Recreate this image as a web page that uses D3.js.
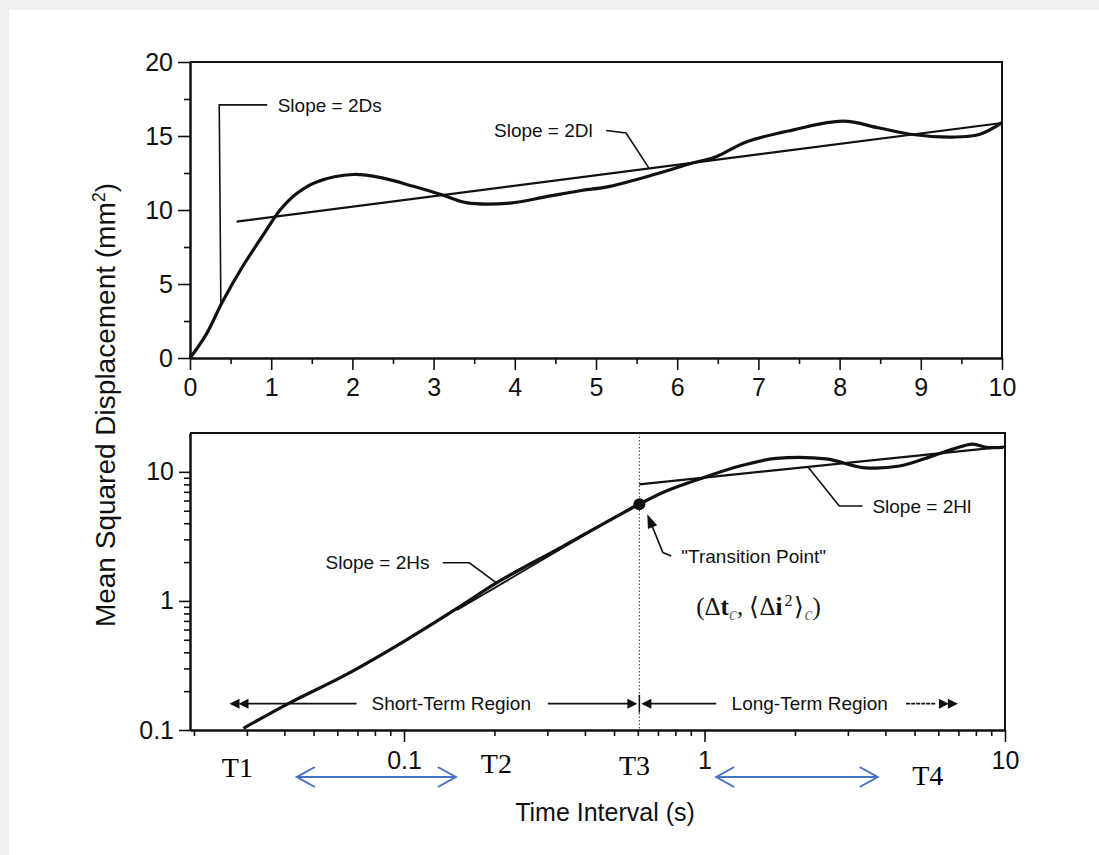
<!DOCTYPE html>
<html><head><meta charset="utf-8">
<script src="https://cdn.jsdelivr.net/npm/d3@7"></script>
<style>body{margin:0;background:#fff}</style>
</head><body>
<svg id="c" width="1099" height="855"></svg>
<script>
// ---------- DATA ----------
// Top panel (linear): time interval (s) vs MSD (mm^2)
const topTime = [0, 0.2, 0.4, 0.65, 0.90, 1.11, 1.31, 1.56, 2.01, 2.38, 2.75, 3.12, 3.40, 3.94, 4.39, 4.80, 5.17, 5.78, 6.19, 6.48, 6.85, 7.42, 8.04, 8.49, 8.90, 9.39, 9.72, 10.0];
const topMSD  = [0, 1.6, 3.8, 6.2, 8.3, 10.0, 11.1, 11.9, 12.4, 12.15, 11.6, 11.0, 10.5, 10.47, 10.9, 11.3, 11.6, 12.5, 13.17, 13.6, 14.6, 15.4, 16.0, 15.54, 15.1, 14.93, 15.1, 15.9];
const topFitTime = [0.574, 10.0];
const topFitMSD  = [9.22, 15.88];
const topXTicks = [0,1,2,3,4,5,6,7,8,9,10];
const topYTicks = [0,5,10,15,20];

// Bottom panel (log-log)
const logTime = [0.0292, 0.0418, 0.0644, 0.102, 0.157, 0.203, 0.339, 0.607, 0.746, 0.962, 1.31, 1.73, 2.54, 3.36, 4.46, 5.75, 6.7, 7.8, 8.66, 9.87];
const logMSD  = [0.103, 0.163, 0.27, 0.5, 0.935, 1.38, 2.66, 5.62, 7.1, 8.8, 11.1, 12.7, 12.6, 10.8, 11.1, 13.3, 15.0, 16.4, 15.5, 15.5];
const shortFitTime = [0.15, 0.607];
const shortFitMSD  = [0.85, 5.75];
const longFitTime = [0.607, 10.0];
const longFitMSD  = [8.0, 15.7];
const transition = [0.607, 5.62];
const logXTicks = [0.1, 1, 10];
const logXLabels = ["0.1", "1", "10"];
const logYTicks = [0.1, 1, 10];
const logYLabels = ["0.1", "1", "10"];
const phaseLabels = ["T1", "T2", "T3", "T4"];
const phaseTimes = [0.0279, 0.203, 0.585, 5.53];

// ---------- DRAW ----------
const W = 1099, H = 855;
const svg = d3.select('#c');
svg.append('rect').attr('width', W).attr('height', H).attr('fill', '#efefef');
svg.append('rect').attr('x', 9).attr('y', 10).attr('width', W - 9).attr('height', H - 10).attr('fill', '#fff');

const SANS = '"Liberation Sans", Arial, sans-serif';
const SERIF = '"Liberation Serif", "Times New Roman", serif';
const INK = '#111';

function styleAxis(g, fs) {
  g.selectAll('path.domain').attr('stroke', INK).attr('stroke-width', 2);
  g.selectAll('line').attr('stroke', INK).attr('stroke-width', 1.6);
  g.selectAll('text').attr('fill', INK).style('font-family', SANS).style('font-size', fs + 'px');
}

// ===== Top panel =====
const x1 = d3.scaleLinear().domain([0, 10]).range([190, 1002]);
const y1 = d3.scaleLinear().domain([0, 20]).range([358, 62]);
const gTop = svg.append('g');

gTop.append('g').attr('transform', 'translate(0,358)')
  .call(d3.axisBottom(x1).tickValues(d3.range(0.5, 10, 1)).tickSize(6).tickFormat('').tickSizeOuter(0))
  .call(g => styleAxis(g, 25));
gTop.append('g').attr('transform', 'translate(0,358)')
  .call(d3.axisBottom(x1).tickValues(topXTicks).tickSize(12).tickPadding(8).tickSizeOuter(0))
  .call(g => styleAxis(g, 25));
gTop.append('g').attr('transform', 'translate(190,0)')
  .call(d3.axisLeft(y1).tickValues([2.5, 7.5, 12.5, 17.5]).tickSize(6).tickFormat('').tickSizeOuter(0))
  .call(g => styleAxis(g, 25));
gTop.append('g').attr('transform', 'translate(190,0)')
  .call(d3.axisLeft(y1).tickValues(topYTicks).tickSize(12).tickPadding(5).tickSizeOuter(0))
  .call(g => styleAxis(g, 25));
gTop.append('path').attr('d', `M${x1(0)},${y1(20)}H${x1(10)}V${y1(0)}`)
  .attr('fill', 'none').attr('stroke', INK).attr('stroke-width', 2);

const line1 = d3.line().x(d => x1(d[0])).y(d => y1(d[1])).curve(d3.curveCatmullRom.alpha(0.5));
gTop.append('path').datum(topFitTime.map((t, i) => [t, topFitMSD[i]]))
  .attr('d', d3.line().x(d => x1(d[0])).y(d => y1(d[1])))
  .attr('fill', 'none').attr('stroke', INK).attr('stroke-width', 2.2);
gTop.append('path').datum(topTime.map((t, i) => [t, topMSD[i]]))
  .attr('d', line1).attr('fill', 'none').attr('stroke', INK).attr('stroke-width', 3.2);

// annotations top
const plain = d3.line().x(d => x1(d[0])).y(d => y1(d[1]));
gTop.append('path').datum([[0.38, 3.6], [0.36, 17.1], [0.95, 17.1]]).attr('d', plain)
  .attr('fill', 'none').attr('stroke', INK).attr('stroke-width', 1.6);
gTop.append('text').attr('x', x1(1.08)).attr('y', y1(17.1)).attr('dy', '0.35em')
  .style('font-family', SANS).style('font-size', '19px').attr('fill', INK).text('Slope = 2Ds');
gTop.append('path').datum([[5.125, 15.37], [5.37, 15.2], [5.65, 12.85]]).attr('d', plain)
  .attr('fill', 'none').attr('stroke', INK).attr('stroke-width', 1.6);
gTop.append('text').attr('x', x1(4.96)).attr('y', y1(15.36)).attr('dy', '0.35em').attr('text-anchor', 'end')
  .style('font-family', SANS).style('font-size', '19px').attr('fill', INK).text('Slope = 2Dl');

// ===== Bottom panel =====
const x2 = d3.scaleLog().domain([0.0194, 10]).range([190, 1005]);
const y2 = d3.scaleLog().domain([0.1, 20]).range([730, 433]);
const bot = svg.append('g');

const minorX = [];
[0.01, 0.1, 1].forEach(d => { for (let k = 2; k <= 9; k++) { const v = +(d * k).toPrecision(3); if (v > 0.0194) minorX.push(v); } });
const minorY = [];
[0.1, 1].forEach(d => { for (let k = 2; k <= 9; k++) minorY.push(+(d * k).toPrecision(3)); });

bot.append('g').attr('transform', 'translate(0,730)')
  .call(d3.axisBottom(x2).tickValues(minorX).tickSize(6).tickFormat('').tickSizeOuter(0))
  .call(g => styleAxis(g, 25));
bot.append('g').attr('transform', 'translate(0,730)')
  .call(d3.axisBottom(x2).tickValues(logXTicks).tickSize(12).tickPadding(9).tickSizeOuter(0)
    .tickFormat((d, i) => logXLabels[i]))
  .call(g => styleAxis(g, 25));
bot.append('g').attr('transform', 'translate(190,0)')
  .call(d3.axisLeft(y2).tickValues(minorY).tickSize(6).tickFormat('').tickSizeOuter(0))
  .call(g => styleAxis(g, 25));
bot.append('g').attr('transform', 'translate(190,0)')
  .call(d3.axisLeft(y2).tickValues(logYTicks).tickSize(11).tickPadding(5).tickSizeOuter(0)
    .tickFormat((d, i) => logYLabels[i]))
  .call(g => styleAxis(g, 25));
bot.append('path').attr('d', `M${x2.range()[0]},${y2(20)}H${x2(10)}V${y2(0.1)}`)
  .attr('fill', 'none').attr('stroke', INK).attr('stroke-width', 2);

// dotted transition line
bot.append('line').attr('x1', x2(transition[0])).attr('x2', x2(transition[0]))
  .attr('y1', y2(20)).attr('y2', y2(0.1))
  .attr('stroke', '#333').attr('stroke-width', 1).attr('stroke-dasharray', '1.5,2');

const line2s = d3.line().x(d => x2(d[0])).y(d => y2(d[1]));
const line2 = d3.line().x(d => x2(d[0])).y(d => y2(d[1])).curve(d3.curveCatmullRom.alpha(0.5));
bot.append('path').datum(shortFitTime.map((t, i) => [t, shortFitMSD[i]])).attr('d', line2s)
  .attr('fill', 'none').attr('stroke', INK).attr('stroke-width', 1.8);
bot.append('path').datum(longFitTime.map((t, i) => [t, longFitMSD[i]])).attr('d', line2s)
  .attr('fill', 'none').attr('stroke', INK).attr('stroke-width', 2.2);
bot.append('path').datum(logTime.map((t, i) => [t, logMSD[i]])).attr('d', line2)
  .attr('fill', 'none').attr('stroke', INK).attr('stroke-width', 3.2);
bot.append('circle').attr('cx', x2(transition[0])).attr('cy', y2(transition[1])).attr('r', 6).attr('fill', INK);

// annotations bottom
function leader(pts, g) {
  g.append('path').datum(pts).attr('d', line2s).attr('fill', 'none').attr('stroke', INK).attr('stroke-width', 1.6);
}
leader([[0.1346, 1.976], [0.165, 1.976], [0.203, 1.38]], bot);
bot.append('text').attr('x', x2(0.1216)).attr('y', y2(2.0)).attr('dy', '0.35em').attr('text-anchor', 'end')
  .style('font-family', SANS).style('font-size', '19px').attr('fill', INK).text('Slope = 2Hs');
leader([[3.36, 5.44], [2.81, 5.44], [2.21, 10.9]], bot);
bot.append('text').attr('x', x2(3.62)).attr('y', y2(5.44)).attr('dy', '0.35em')
  .style('font-family', SANS).style('font-size', '19px').attr('fill', INK).text('Slope = 2Hl');

// transition point leader with arrow
leader([[0.775, 2.23], [0.727, 2.37], [0.655, 4.3]], bot);
(function () {
  const tip = [x2(0.645), y2(4.7)];
  const from = [x2(0.727), y2(2.37)];
  const ang = Math.atan2(tip[1] - from[1], tip[0] - from[0]);
  const L = 14, Wd = 5;
  const bx = tip[0] - L * Math.cos(ang), by = tip[1] - L * Math.sin(ang);
  const px = -Math.sin(ang) * Wd, py = Math.cos(ang) * Wd;
  bot.append('path').attr('d', `M${tip[0]},${tip[1]}L${bx + px},${by + py}L${bx - px},${by - py}Z`).attr('fill', INK);
})();
bot.append('text').attr('x', x2(0.837)).attr('y', y2(2.23)).attr('dy', '0.35em')
  .style('font-family', SANS).style('font-size', '19px').attr('fill', INK).text('"Transition Point"');

const mt = bot.append('text').attr('x', x2(0.938)).attr('y', y2(0.91)).attr('dy', '0.35em')
  .style('font-family', SERIF).style('font-size', '25px').attr('fill', INK);
mt.append('tspan').text('(Δ');
mt.append('tspan').style('font-weight', 'bold').text('t');
mt.append('tspan').attr('dy', '5').style('font-size', '18px').style('font-style', 'italic').attr('fill', '#777').text('c');
mt.append('tspan').attr('dy', '-5').text(', ⟨Δ');
mt.append('tspan').style('font-weight', 'bold').text('i');
mt.append('tspan').attr('dy', '-9').attr('dx', '2').style('font-size', '16px').text('2');
mt.append('tspan').attr('dy', '9').attr('dx', '2').text('⟩');
mt.append('tspan').attr('dy', '5').style('font-size', '18px').style('font-style', 'italic').attr('fill', '#777').text('c');
mt.append('tspan').attr('dy', '-5').text(')');

// region arrows
const ry = y2(0.16);
function tri(xTip, dir, g) { // dir: -1 points left, +1 points right
  const L = 10, Wd = 5;
  g.append('path').attr('d', `M${xTip},${ry}L${xTip - dir * L},${ry - Wd}L${xTip - dir * L},${ry + Wd}Z`).attr('fill', INK);
}
function hseg(a, b, g, dash) {
  g.append('line').attr('x1', x2(a)).attr('x2', x2(b)).attr('y1', ry).attr('y2', ry)
    .attr('stroke', INK).attr('stroke-width', 1.8).attr('stroke-dasharray', dash || null);
}
tri(x2(0.02626), -1, bot); tri(x2(0.02626) + 9, -1, bot);
hseg(0.0295, 0.0695, bot);
bot.append('text').attr('x', x2(0.1436)).attr('y', ry).attr('dy', '0.35em').attr('text-anchor', 'middle')
  .style('font-family', SANS).style('font-size', '19px').attr('fill', INK).text('Short-Term Region');
hseg(0.301, 0.58, bot);
tri(x2(transition[0]) - 2, 1, bot);
bot.append('line').attr('x1', x2(transition[0])).attr('x2', x2(transition[0])).attr('y1', ry - 9).attr('y2', ry + 9)
  .attr('stroke', INK).attr('stroke-width', 1.5);
tri(x2(transition[0]) + 2, -1, bot);
hseg(0.63, 1.094, bot);
bot.append('text').attr('x', x2(2.24)).attr('y', ry).attr('dy', '0.35em').attr('text-anchor', 'middle')
  .style('font-family', SANS).style('font-size', '19px').attr('fill', INK).text('Long-Term Region');
hseg(4.69, 5.9, bot, '4,1');
tri(x2(6.97) - 9, 1, bot); tri(x2(6.97), 1, bot);

// phase labels T1..T4
const tY = [767, 763, 765, 775];
phaseLabels.forEach((lab, i) => {
  svg.append('text').attr('x', x2(phaseTimes[i])).attr('y', tY[i]).attr('dy', '0.35em').attr('text-anchor', 'middle')
    .style('font-family', SERIF).style('font-size', '28px').attr('fill', '#000').text(lab);
});

// blue double arrows
const BLUE = '#4472C4';
[[0.044, 0.1488], [1.094, 3.77]].forEach(([a, b]) => {
  const xa = x2(a), xb = x2(b), yy = 777;
  svg.append('line').attr('x1', xa).attr('x2', xb).attr('y1', yy).attr('y2', yy).attr('stroke', BLUE).attr('stroke-width', 2);
  svg.append('path').attr('d', `M${xa + 18},${yy - 10}L${xa},${yy}L${xa + 18},${yy + 10}`).attr('fill', 'none').attr('stroke', BLUE).attr('stroke-width', 2);
  svg.append('path').attr('d', `M${xb - 18},${yy - 10}L${xb},${yy}L${xb - 18},${yy + 10}`).attr('fill', 'none').attr('stroke', BLUE).attr('stroke-width', 2);
});

// axis titles
svg.append('text').attr('x', 605).attr('y', 812).attr('dy', '0.35em').attr('text-anchor', 'middle')
  .style('font-family', SANS).style('font-size', '25px').attr('fill', INK).text('Time Interval (s)');
const yt = svg.append('text').attr('transform', 'translate(105,405) rotate(-90)').attr('dy', '0.35em').attr('text-anchor', 'middle')
  .style('font-family', SANS).style('font-size', '28px').attr('fill', INK);
yt.append('tspan').text('Mean Squared Displacement (mm');
yt.append('tspan').attr('dy', '-10').style('font-size', '18px').text('2');
yt.append('tspan').attr('dy', '10').text(')');
</script>
</body></html>
